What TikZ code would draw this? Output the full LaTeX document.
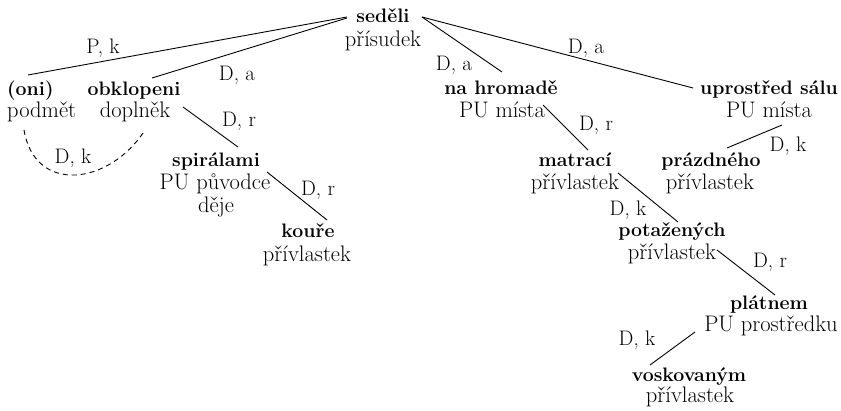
\documentclass[tikz,border=0pt]{standalone}
\usetikzlibrary{calc}
\tikzset{
  wordnode/.style={inner sep=0pt, anchor=base, font=\fontsize{19.5}{23}\selectfont\bfseries},
  rolenode/.style={inner sep=0pt, anchor=base, font=\fontsize{22.5}{23}\selectfont},
  labnode/.style={inner sep=0pt, anchor=base, font=\fontsize{21}{23}\selectfont},
  link/.style={line width=0.9pt},
  dlink/.style={line width=0.9pt, dash pattern=on 5pt off 4pt},
}
\begin{document}
\begin{tikzpicture}[x=1pt,y=-1pt]
\useasboundingbox (0,0) rectangle (841,411);
% nodes
\node[wordnode] (sed) at (383,23) {seděli};
\node[rolenode] (sedR) at (383,47) {přísudek};
\node[wordnode, anchor=base west] (oni) at (7,96) {(oni)};
\node[rolenode, anchor=base west] (oniR) at (7,118) {podmět};
\node[wordnode] (obk) at (134,96) {obklopeni};
\node[rolenode] (obkR) at (135,118) {doplněk};
\node[wordnode] (spi) at (216,167) {spirálami};
\node[rolenode] (spiR) at (215,190) {PU původce};
\node[rolenode] (spiR2) at (216,213) {děje};
\node[wordnode] (kou) at (308,238) {kouře};
\node[rolenode] (kouR) at (307,262) {přívlastek};
\node[wordnode] (nah) at (501,95) {na hromadě};
\node[rolenode] (nahR) at (502,118) {PU místa};
\node[wordnode] (upr) at (769,95) {uprostřed sálu};
\node[rolenode] (uprR) at (769,118) {PU místa};
\node[wordnode] (mat) at (575,167) {matrací};
\node[rolenode] (matR) at (575,190) {přívlastek};
\node[wordnode] (pra) at (711,167) {prázdného};
\node[rolenode] (praR) at (710,190) {přívlastek};
\node[wordnode] (pot) at (672,237) {potažených};
\node[rolenode] (potR) at (672,260) {přívlastek};
\node[wordnode] (pla) at (769,310) {plátnem};
\node[rolenode] (plaR) at (771,332) {PU prostředku};
\node[wordnode] (vos) at (689,382) {voskovaným};
\node[rolenode] (vosR) at (690,403) {přívlastek};
% connectors
\draw[link] ($(sed.base)+(-36,-6)$) -- ($(oni.base west)+(21,-21)$);
\draw[link] ($(sed.base)+(-36,-5)$) -- ($(obk.base)+(18,-18)$);
\draw[link] ($(obkR.base)+(48,-11)$) -- ($(spi.base)+(22,-20)$);
\draw[link] ($(spiR.base)+(52,-18)$) -- ($(kou.base)+(19,-18)$);
\draw[dlink] ($(oniR.base west)+(17,12)$) .. controls (35,195) and (110,185) .. ($(obkR.base)+(10,12)$);
\draw[link] ($(sed.base)+(39,-6)$) -- ($(nah.base)+(1,-23)$);
\draw[link] ($(sed.base)+(39,-6)$) -- ($(upr.base)+(-76,-7)$);
\draw[link] ($(nahR.base)+(41,-13)$) -- ($(mat.base)+(13,-17)$);
\draw[link] ($(uprR.base)+(13,7)$) -- ($(pra.base)+(16,-19)$);
\draw[link] ($(matR.base)+(43,-17)$) -- ($(pot.base)+(6,-15)$);
\draw[link] ($(potR.base)+(45,-10)$) -- ($(pla.base)+(6,-15)$);
\draw[link] ($(plaR.base)+(-76,0)$) -- ($(vos.base)+(-39,-17)$);
% labels
\node[labnode] (l1) at (103,54) {P, k};
\node[labnode] (l2) at (237,81) {D, a};
\node[labnode] (l3) at (239,127) {D, r};
\node[labnode] (l4) at (73,164) {D, k};
\node[labnode] (l5) at (318,196) {D, r};
\node[labnode] (l6) at (454,71) {D, a};
\node[labnode] (l7) at (586,54) {D, a};
\node[labnode] (l8) at (596,131) {D, r};
\node[labnode] (l9) at (788,152) {D, k};
\node[labnode] (l10) at (628,216) {D, k};
\node[labnode] (l11) at (770,268) {D, r};
\node[labnode] (l12) at (637,346) {D, k};
\end{tikzpicture}
\end{document}
